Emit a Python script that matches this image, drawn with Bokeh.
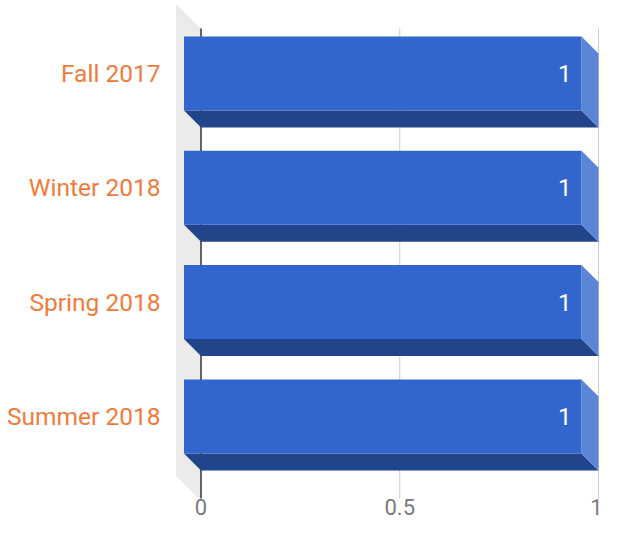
from bokeh.plotting import figure
from bokeh.models import Range1d, FixedTicker, ColumnDataSource
from bokeh.core.properties import value
from bokeh.embed import file_html
from bokeh.resources import INLINE

# ---- data ----
CATEGORIES = ["Fall 2017", "Winter 2018", "Spring 2018", "Summer 2018"]
VALUES = [1, 1, 1, 1]
X_TICKS = [0, 0.5, 1]
X_TICK_LABELS = ["0", "0.5", "1"]

# ---- layout (pixels) ----
W, H = 602, 524
ML, MR, MT, MB = 172, 0, 0, 26
FRAME_W = W - ML - MR
FRAME_H = H - MT - MB
X0_PX = 28.5          # x = 0 from frame left
PX_PER_X = 397.5
Y0_PX = 73.0          # centre of the first bar's front face from frame top
PX_PER_Y = 114.3
DEPTH_PX = 17.0
HALF_BAR_PX = 37.0
WALL_PX = 25.0
BACK_TOP_PX = 28.0
BACK_BOTTOM_PX = 500.0

x_start = -X0_PX / PX_PER_X
x_end = (FRAME_W - X0_PX) / PX_PER_X
y_top = -Y0_PX / PX_PER_Y
y_bottom = (FRAME_H - Y0_PX) / PX_PER_Y

dx = DEPTH_PX / PX_PER_X
dy = DEPTH_PX / PX_PER_Y
hh = HALF_BAR_PX / PX_PER_Y
wx = WALL_PX / PX_PER_X
wy = WALL_PX / PX_PER_Y
back_top = (BACK_TOP_PX - Y0_PX) / PX_PER_Y
back_bottom = (BACK_BOTTOM_PX - Y0_PX) / PX_PER_Y

p = figure(width=W, height=H, output_backend="svg", toolbar_location=None,
           x_range=Range1d(x_start, x_end), y_range=Range1d(y_bottom, y_top),
           min_border_left=ML, min_border_right=MR, min_border_top=MT,
           min_border_bottom=MB)
p.outline_line_color = None
p.background_fill_color = "white"
p.border_fill_color = "white"
p.xgrid.visible = False
p.ygrid.visible = False

# back wall on the left
p.patch(x=[0, -wx, -wx, 0], y=[back_top, back_top - wy, back_bottom - wy, back_bottom],
        fill_color="#ebebeb", line_color=None)

# grid lines and zero line
grid_x = [t for t in X_TICKS if t != 0]
p.segment(x0=grid_x, y0=[back_top] * len(grid_x), x1=grid_x, y1=[back_bottom] * len(grid_x),
          line_color="#cccccc", line_width=1)
p.segment(x0=[0], y0=[back_top], x1=[0], y1=[back_bottom], line_color="#333333", line_width=1.5)

# bars
idx = list(range(len(CATEGORIES)))
front = ColumnDataSource(dict(
    left=[-dx] * len(VALUES),
    right=[v - dx for v in VALUES],
    top=[i - hh for i in idx],
    bottom=[i + hh for i in idx],
))
bottom_xs, bottom_ys, side_xs, side_ys = [], [], [], []
for i, v in zip(idx, VALUES):
    bottom_xs.append([-dx, v - dx, v, 0])
    bottom_ys.append([i + hh, i + hh, i + hh + dy, i + hh + dy])
    side_xs.append([v - dx, v, v, v - dx])
    side_ys.append([i - hh, i - hh + dy, i + hh + dy, i + hh])

p.patches(xs=bottom_xs, ys=bottom_ys, fill_color="#22448a", line_color=None)
p.patches(xs=side_xs, ys=side_ys, fill_color="#5b86d7", line_color=None)
p.quad(left="left", right="right", top="top", bottom="bottom", source=front,
       fill_color="#3366cc", line_color=None)

# value labels
p.text(x=[v - dx for v in VALUES], y=idx, text=[str(v) for v in VALUES],
       text_align="right", text_baseline="middle", x_offset=-10,
       text_color="white", text_font=value("Roboto"), text_font_size="24px")

# axes
xa = p.xaxis[0]
xa.ticker = FixedTicker(ticks=X_TICKS)
xa.major_label_overrides = dict(zip(X_TICKS, X_TICK_LABELS))
xa.axis_line_color = None
xa.major_tick_line_color = None
xa.minor_tick_line_color = None
xa.major_tick_out = 0
xa.major_tick_in = 0
xa.major_label_standoff = 0
xa.major_label_text_font = "Roboto"
xa.major_label_text_font_size = "22px"
xa.major_label_text_color = "#7a7a7a"

ya = p.yaxis[0]
ya.ticker = FixedTicker(ticks=idx)
ya.major_label_overrides = dict(zip(idx, CATEGORIES))
ya.axis_line_color = None
ya.major_tick_line_color = None
ya.minor_tick_line_color = None
ya.major_tick_out = 0
ya.major_tick_in = 0
ya.major_label_standoff = 12
ya.major_label_text_font = "Roboto"
ya.major_label_text_font_size = "24.5px"
ya.major_label_text_color = "#f07b3a"

open("out.html", "w").write(file_html(p, INLINE))
